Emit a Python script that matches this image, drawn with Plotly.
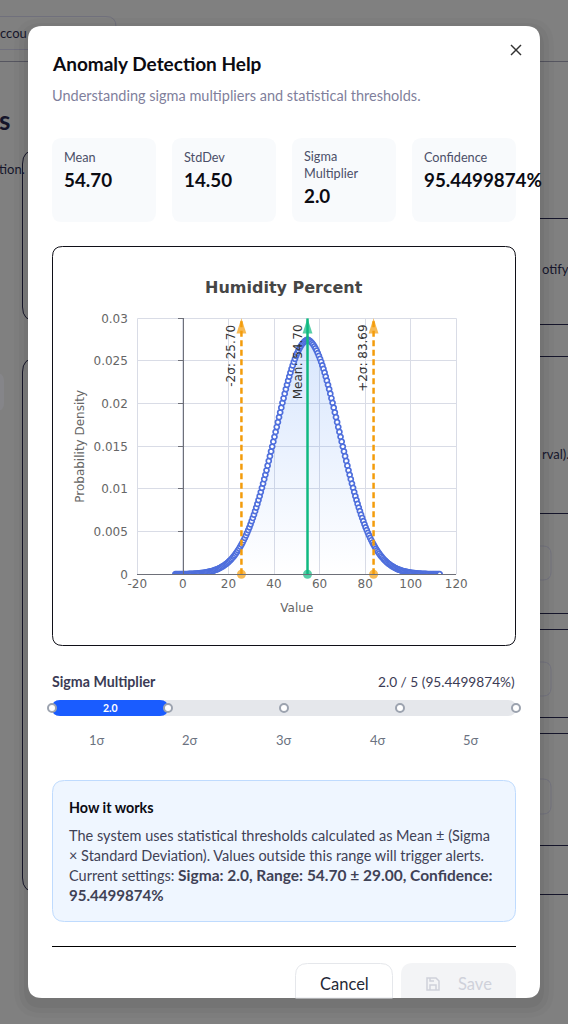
import plotly.graph_objects as go

W = 568
H = 1024

# values
mean = 54.70
lower = 25.70
upper = 83.69
y_limit = 0.03

curve_x = [
    -3.3, -2.8, -2.3, -1.8, -1.3, -0.8, -0.3, 0.2, 0.7, 1.2, 1.7, 2.2, 2.7, 3.2, 3.7, 4.2, 4.7, 5.2, 5.7, 6.2,
    6.7, 7.2, 7.7, 8.2, 8.7, 9.2, 9.7, 10.2, 10.7, 11.2, 11.7, 12.2, 12.7, 13.2, 13.7, 14.2, 14.7, 15.2, 15.7, 16.2,
    16.7, 17.2, 17.7, 18.2, 18.7, 19.2, 19.7, 20.2, 20.7, 21.2, 21.7, 22.2, 22.7, 23.2, 23.7, 24.2, 24.7, 25.2, 25.7, 26.2,
    26.7, 27.2, 27.7, 28.2, 28.7, 29.2, 29.7, 30.2, 30.7, 31.2, 31.7, 32.2, 32.7, 33.2, 33.7, 34.2, 34.7, 35.2, 35.7, 36.2,
    36.7, 37.2, 37.7, 38.2, 38.7, 39.2, 39.7, 40.2, 40.7, 41.2, 41.7, 42.2, 42.7, 43.2, 43.7, 44.2, 44.7, 45.2, 45.7, 46.2,
    46.7, 47.2, 47.7, 48.2, 48.7, 49.2, 49.7, 50.2, 50.7, 51.2, 51.7, 52.2, 52.7, 53.2, 53.7, 54.2, 54.7, 55.2, 55.7, 56.2,
    56.7, 57.2, 57.7, 58.2, 58.7, 59.2, 59.7, 60.2, 60.7, 61.2, 61.7, 62.2, 62.7, 63.2, 63.7, 64.2, 64.7, 65.2, 65.7, 66.2,
    66.7, 67.2, 67.7, 68.2, 68.7, 69.2, 69.7, 70.2, 70.7, 71.2, 71.7, 72.2, 72.7, 73.2, 73.7, 74.2, 74.7, 75.2, 75.7, 76.2,
    76.7, 77.2, 77.7, 78.2, 78.7, 79.2, 79.7, 80.2, 80.7, 81.2, 81.7, 82.2, 82.7, 83.2, 83.7, 84.2, 84.7, 85.2, 85.7, 86.2,
    86.7, 87.2, 87.7, 88.2, 88.7, 89.2, 89.7, 90.2, 90.7, 91.2, 91.7, 92.2, 92.7, 93.2, 93.7, 94.2, 94.7, 95.2, 95.7, 96.2,
    96.7, 97.2, 97.7, 98.2, 98.7, 99.2, 99.7, 100.2, 100.7, 101.2, 101.7, 102.2, 102.7, 103.2, 103.7, 104.2, 104.7, 105.2, 105.7, 106.2,
    106.7, 107.2, 107.7, 108.2, 108.7, 109.2, 109.7, 110.2, 110.7, 111.2, 111.7, 112.2, 112.7,
]
curve_y = [
    0.00001, 0.00001, 0.00001, 0.00001, 0.00001, 0.00002, 0.00002, 0.00002, 0.00002, 0.00003, 0.00003, 0.00003, 0.00004, 0.00004, 0.00005, 0.00006, 0.00006, 0.00007, 0.00008, 0.00009,
    0.00010, 0.00011, 0.00013, 0.00014, 0.00016, 0.00018, 0.00020, 0.00022, 0.00025, 0.00028, 0.00031, 0.00034, 0.00037, 0.00041, 0.00046, 0.00051, 0.00056, 0.00061, 0.00067, 0.00074,
    0.00081, 0.00089, 0.00097, 0.00106, 0.00116, 0.00126, 0.00137, 0.00149, 0.00162, 0.00176, 0.00191, 0.00206, 0.00223, 0.00241, 0.00260, 0.00280, 0.00301, 0.00324, 0.00347, 0.00372,
    0.00399, 0.00426, 0.00455, 0.00486, 0.00518, 0.00551, 0.00586, 0.00622, 0.00660, 0.00699, 0.00740, 0.00782, 0.00825, 0.00870, 0.00916, 0.00964, 0.01013, 0.01063, 0.01114, 0.01166,
    0.01219, 0.01273, 0.01328, 0.01384, 0.01440, 0.01497, 0.01554, 0.01611, 0.01669, 0.01726, 0.01783, 0.01841, 0.01897, 0.01953, 0.02009, 0.02063, 0.02117, 0.02169, 0.02220, 0.02269,
    0.02317, 0.02363, 0.02407, 0.02448, 0.02488, 0.02525, 0.02560, 0.02592, 0.02622, 0.02648, 0.02672, 0.02693, 0.02710, 0.02725, 0.02736, 0.02744, 0.02751, 0.02744, 0.02736, 0.02725,
    0.02710, 0.02693, 0.02672, 0.02648, 0.02622, 0.02592, 0.02560, 0.02525, 0.02488, 0.02448, 0.02407, 0.02363, 0.02317, 0.02269, 0.02220, 0.02169, 0.02117, 0.02063, 0.02009, 0.01953,
    0.01897, 0.01841, 0.01783, 0.01726, 0.01669, 0.01611, 0.01554, 0.01497, 0.01440, 0.01384, 0.01328, 0.01273, 0.01219, 0.01166, 0.01114, 0.01063, 0.01013, 0.00964, 0.00916, 0.00870,
    0.00825, 0.00782, 0.00740, 0.00699, 0.00660, 0.00622, 0.00586, 0.00551, 0.00518, 0.00486, 0.00455, 0.00426, 0.00399, 0.00372, 0.00347, 0.00324, 0.00301, 0.00280, 0.00260, 0.00241,
    0.00223, 0.00206, 0.00191, 0.00176, 0.00162, 0.00149, 0.00137, 0.00126, 0.00116, 0.00106, 0.00097, 0.00089, 0.00081, 0.00074, 0.00067, 0.00061, 0.00056, 0.00051, 0.00046, 0.00041,
    0.00037, 0.00034, 0.00031, 0.00028, 0.00025, 0.00022, 0.00020, 0.00018, 0.00016, 0.00014, 0.00013, 0.00011, 0.00010, 0.00009, 0.00008, 0.00007, 0.00006, 0.00006, 0.00005, 0.00004,
    0.00004, 0.00003, 0.00003, 0.00003, 0.00002, 0.00002, 0.00002, 0.00002, 0.00001, 0.00001, 0.00001, 0.00001, 0.00001,
]

x_ticks = [-20, 0, 20, 40, 60, 80, 100, 120]
x_tick_text = ["-20", "0", "20", "40", "60", "80", "100", "120"]
y_ticks = [0, 0.005, 0.01, 0.015, 0.02, 0.025, 0.03]
y_tick_text = ["0", "0.005", "0.01", "0.015", "0.02", "0.025", "0.03"]

card_labels = ["Mean", "StdDev", "Sigma<br>Multiplier", "Confidence"]
card_values = ["54.70", "14.50", "2.0", "95.4499874%"]
sigma_labels = ["1σ", "2σ", "3σ", "4σ", "5σ"]

UI = "Lato"
CHART = "DejaVu Sans"
ORANGE = "#f39c0b"
GREEN = "#10b981"
BLUE = "#4f6fdc"
GRID = "#d9dce6"
AXIS = "#666666"


def X(v):
    return v / W


def Y(v):
    return 1 - v / H


def rounded(x0, y0, x1, y1, r, open_bottom=False):
    p = f"M{X(x0)},{Y(y0 + r)} Q{X(x0)},{Y(y0)} {X(x0 + r)},{Y(y0)} L{X(x1 - r)},{Y(y0)} Q{X(x1)},{Y(y0)} {X(x1)},{Y(y0 + r)} "
    if open_bottom:
        return p + f"L{X(x1)},{Y(y1)} L{X(x0)},{Y(y1)} Z"
    p += f"L{X(x1)},{Y(y1 - r)} Q{X(x1)},{Y(y1)} {X(x1 - r)},{Y(y1)} L{X(x0 + r)},{Y(y1)} Q{X(x0)},{Y(y1)} {X(x0)},{Y(y1 - r)} Z"
    return p


shapes = []
notes = []


def box(x0, y0, x1, y1, r, fill="rgba(0,0,0,0)", line="rgba(0,0,0,0)", lw=1, open_bottom=False):
    shapes.append(dict(type="path", xref="paper", yref="paper", layer="below", path=rounded(x0, y0, x1, y1, r, open_bottom),
                       fillcolor=fill, line=dict(color=line, width=lw)))


def seg(x0, y0, x1, y1, color, lw=1):
    shapes.append(dict(type="line", xref="paper", yref="paper", layer="below", x0=X(x0), y0=Y(y0), x1=X(x1), y1=Y(y1),
                       line=dict(color=color, width=lw)))


def txt(x, y, s, size=14, color="#374151", anchor="left", font=UI, weight=None, angle=0):
    if anchor == "left":
        x -= 1
    notes.append(dict(xref="paper", yref="paper", x=X(x), y=Y(y - 1), text=s, showarrow=False, xanchor=anchor, yanchor="middle",
                      textangle=angle, borderpad=0, align="left",
                      font=dict(family=font, size=size, color=color, weight=weight)))


# page behind the dialog
dark = "#15152a"
soft = "#70707c"
box(-20, 16.5, 116, 49.5, 10, line=soft)
seg(0, 61.5, 568, 61.5, "#565660")
box(22.5, 150, 60, 321, 14, line=dark)
box(22.5, 358, 60, 892, 14, line=dark)
box(-20, 373, 4, 411, 8, fill="#858589")
for yy in [218, 324, 356, 513, 613, 629, 717, 733, 845, 894]:
    seg(520, yy + 0.5, 568, yy + 0.5, dark)
for y0, y1 in [(546, 580), (662, 696), (779, 814)]:
    box(500, y0, 551, y1, 8, line="#74747f")
txt(28, 34, "ccou", 13, dark, "right")
txt(11, 121, "s", 26, dark, "right", weight=700)
txt(26, 170, "tion.", 13, dark, "right")
txt(542, 270, "otify", 13, dark)
txt(542, 455, "rval).", 13, dark)

# dialog
for grow, alpha in [(14, 0.02), (9, 0.03), (4, 0.04)]:
    box(28 - grow, 26 - grow + 6, 540 + grow, 998 + grow + 6, 14 + grow, fill=f"rgba(0,0,0,{alpha})")
box(28, 26, 540, 998, 14, fill="white")
seg(511, 45, 521, 55, "#333333", 1.4)
seg(521, 45, 511, 55, "#333333", 1.4)
txt(52, 64, "Anomaly Detection Help", 19, "#0b0b12", weight=700)
txt(52, 96, "Understanding sigma multipliers and statistical thresholds.", 14.5, "#7f7f9c")

card_left = [52, 172, 292, 412]
for left, label, value in zip(card_left, card_labels, card_values):
    box(left, 138, left + 104, 222, 10, fill="#f8fafc")
    two_lines = "<br>" in label
    txt(left + 12, 165.5 if two_lines else 158, label, 12.7, "#4b4f68")
    txt(left + 12, 196 if two_lines else 180, value, 18.8, "#0b0b12", weight=700)

box(52.5, 246.5, 515.5, 645.5, 10, fill="white", line="#101018")

# slider
txt(52, 682, "Sigma Multiplier", 14.2, "#3b3b55", weight=700)
txt(516, 682, "2.0 / 5 (95.4499874%)", 13.7, "#3b3b55", "right")
box(52, 700, 516, 716, 8, fill="#e5e7eb")
box(52, 700, 168, 716, 8, fill="#1a5cff")
txt(110, 709, "2.0", 10.5, "white", "center", weight=700)
for cx in [52, 168, 284, 400, 516]:
    shapes.append(dict(type="circle", xref="paper", yref="paper", layer="below", x0=X(cx - 4), x1=X(cx + 4), y0=Y(708 - 4), y1=Y(708 + 4),
                       fillcolor="white", line=dict(color="#9ca3af", width=2)))
for cx, s in zip([97, 190, 284, 378, 471], sigma_labels):
    txt(cx, 741, s, 13, "#6b7280", "center")

# help text
box(52.5, 780.5, 515.5, 921.5, 12, fill="#eff6ff", line="#bfdbfe")
body = "#3f4256"
txt(69, 808, "How it works", 14.3, "#0b0b12", weight=700)
txt(69, 836, "The system uses statistical thresholds calculated as Mean ± (Sigma", 14.5, body)
txt(69, 856, "× Standard Deviation). Values outside this range will trigger alerts.", 14.5, body)
txt(69, 876, 'Current settings: <span style="font-size:15.5px;font-weight:bold">Sigma: 2.0, Range: 54.70 ± 29.00, Confidence:</span>', 14.5, body)
txt(69, 896, "<b>95.4499874%</b>", 15.1, body)

# footer
seg(52, 946.5, 516, 946.5, "#000000")
box(295.5, 963.5, 392.5, 998, 12, fill="white", line="#e5e7eb", open_bottom=True)
box(401, 963, 516, 998, 12, fill="#f3f4f6", open_bottom=True)
txt(344, 985, "Cancel", 16.5, "#1f2937", "center")
txt(458, 985, "Save", 16.5, "#cfd1da")
icon = (f"M{X(427)},{Y(978)} L{X(436)},{Y(978)} L{X(439)},{Y(981)} L{X(439)},{Y(990)} L{X(427)},{Y(990)} Z "
        f"M{X(430)},{Y(990)} L{X(430)},{Y(985)} L{X(436)},{Y(985)} L{X(436)},{Y(990)} M{X(430)},{Y(978)} L{X(430)},{Y(981)} L{X(434)},{Y(981)}")
shapes.append(dict(type="path", xref="paper", yref="paper", layer="below", path=icon, line=dict(color="#cfd1da", width=1.5)))

# grid edges, plotly leaves these out
seg(137.5, 318.5, 137.5, 574.3, GRID)
seg(456.5, 318.5, 456.5, 574.3, GRID)
seg(137.5, 318.5, 456.5, 318.5, GRID)

# chart
fig = go.Figure()
fig.add_trace(go.Scatter(
    x=curve_x, y=curve_y, mode="markers", fill="tozeroy",
    fillgradient=dict(type="vertical", colorscale=[[0, "rgba(59,130,246,0.0)"], [1, "rgba(59,130,246,0.2)"]]),
    marker=dict(size=5, color="white", line=dict(color=BLUE, width=1.7)),
    hoverinfo="skip", showlegend=False,
))
for xv, color, dash in [(lower, ORANGE, "6px,3.5px"), (upper, ORANGE, "6px,3.5px"), (mean, GREEN, "solid")]:
    fig.add_trace(go.Scatter(
        x=[xv, xv], y=[0, y_limit], yaxis="y2", mode="lines",
        line=dict(color=color, width=2.5, dash=dash), hoverinfo="skip", showlegend=False,
    ))
    fig.add_trace(go.Scatter(
        x=[xv, xv], y=[0, y_limit], yaxis="y2", mode="markers",
        marker=dict(color=color, size=[9, 16], symbol=["circle", "arrow"], line=dict(width=0)),
        cliponaxis=False, hoverinfo="skip", showlegend=False,
    ))

for xv, s in [(lower, "-2σ: 25.70"), (mean, "Mean: 54.70"), (upper, "+2σ: 83.69")]:
    notes.append(dict(x=xv, y=y_limit, xref="x", yref="y", text=s, showarrow=False, textangle=-90, xanchor="center", yanchor="top",
                      xshift=-10, yshift=-4, font=dict(family=CHART, size=12, color="#333333")))
txt(284, 288, "Humidity Percent", 16, "#464646", "center", CHART, 700)

fig.update_layout(
    width=W, height=H, autosize=False,
    margin=dict(l=0, r=0, t=0, b=0, autoexpand=False),
    paper_bgcolor="#808080", plot_bgcolor="rgba(0,0,0,0)",
    shapes=shapes, annotations=notes,
    xaxis=dict(
        domain=[X(137.3), X(456.3)], range=[-20, 120], tickvals=x_ticks, ticktext=x_tick_text, showgrid=True, gridcolor=GRID, gridwidth=1,
        zeroline=False, showline=True, linecolor="#6e7079", linewidth=1, ticks="", ticklabelstandoff=-2,
        tickfont=dict(family=CHART, size=12, color=AXIS),
        title=dict(text="Value", standoff=13, font=dict(family=CHART, size=12, color=AXIS)),
    ),
    yaxis=dict(
        domain=[Y(574.3), Y(318.3)], range=[0, y_limit], tickvals=y_ticks, ticktext=y_tick_text, showgrid=True,
        gridcolor=GRID, gridwidth=1, zeroline=False, showline=False, ticks="outside", ticklen=6, tickcolor="rgba(0,0,0,0)",
        tickfont=dict(family=CHART, size=12, color=AXIS),
        title=dict(text="Probability Density", standoff=6, font=dict(family=CHART, size=12, color=AXIS)),
    ),
    yaxis2=dict(
        overlaying="y", anchor="free", position=X(137.3 + 20 * 319 / 140), side="left", range=[0, y_limit], tickvals=y_ticks,
        showticklabels=False, showgrid=False, zeroline=False, showline=True, linecolor="#6e7079", linewidth=1,
        ticks="outside", ticklen=5, tickcolor="#6e7079",
    ),
)

fig.write_html("out.html", config={"displayModeBar": False},
               post_script="document.body.style.margin='0';document.body.style.overflow='hidden';")
